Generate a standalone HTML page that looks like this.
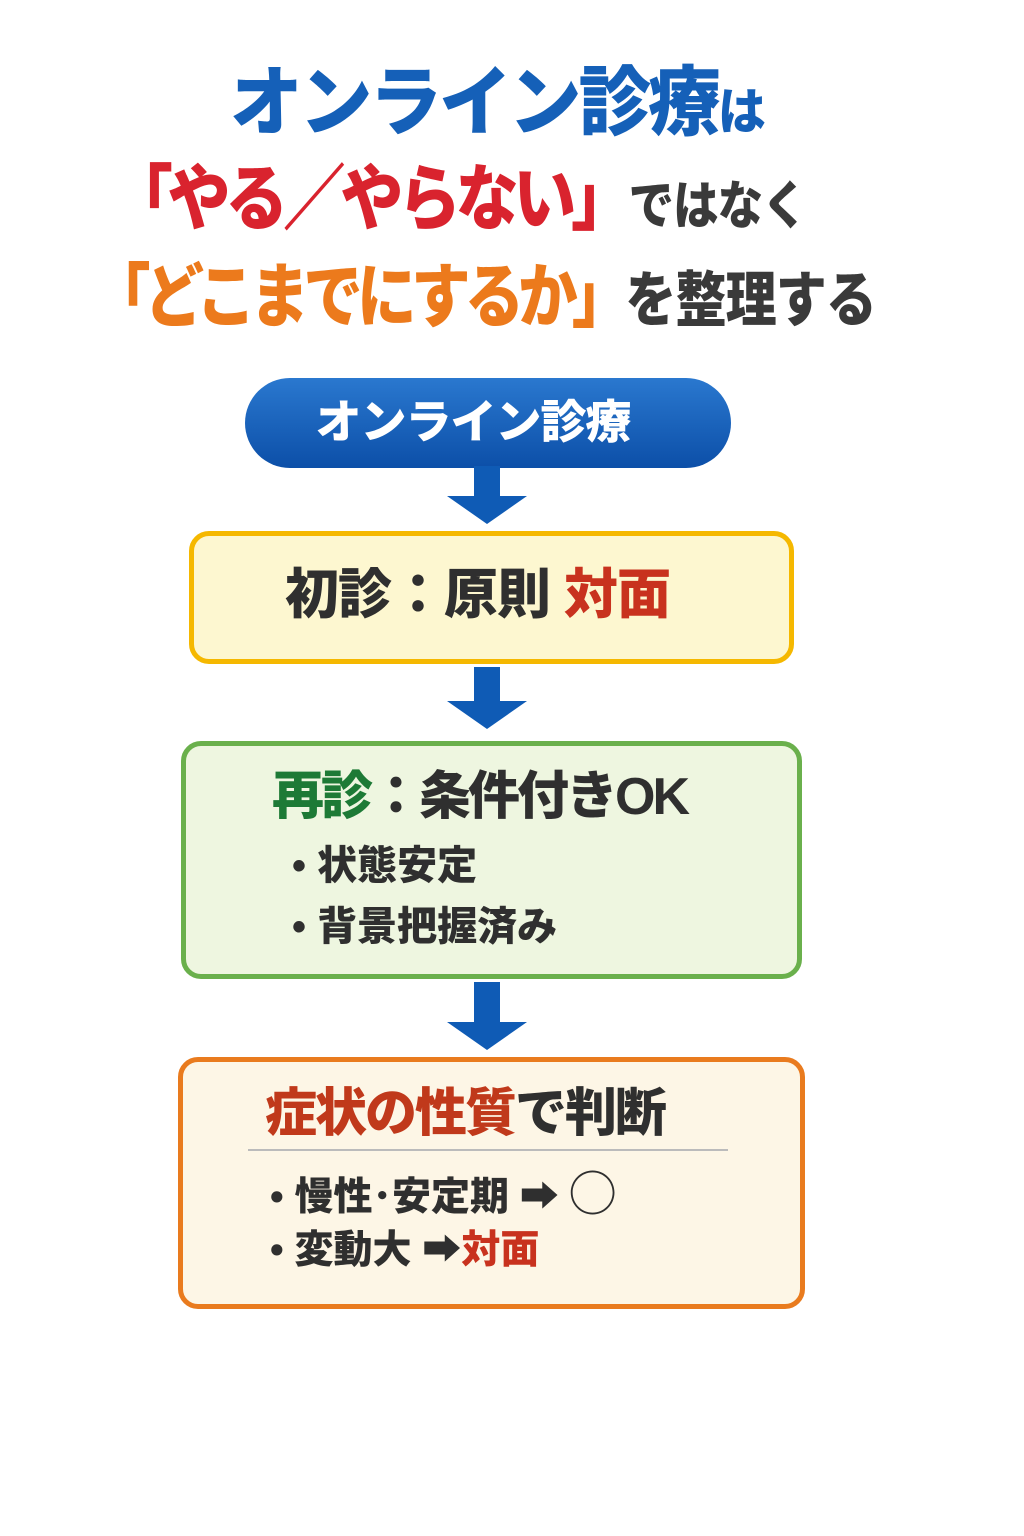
<!DOCTYPE html>
<html><head><meta charset="utf-8"><style>
*{margin:0;padding:0;box-sizing:border-box}
body{width:1024px;height:1536px;background:#fff;position:relative;overflow:hidden;font-family:"Liberation Sans","Noto Sans CJK JP",sans-serif;font-weight:900}
.a{position:absolute;white-space:nowrap;line-height:1}
.box{position:absolute;border-radius:20px}
.arr{position:absolute;width:80px;height:60px}
</style></head><body>
<div class="a" style="left:230px;top:66px;font-size:76px;color:#1560b8;letter-spacing:-3px;transform:scaleX(0.955);transform-origin:left">オンライン診療<span style="font-size:50px;letter-spacing:0">は</span></div>
<div class="a" style="left:110px;top:164px;font-size:72px;color:#d9232e;letter-spacing:-6px;transform:scaleX(0.873);transform-origin:left">「やる／やらない」<span style="font-size:52px;color:#3a3a3a;letter-spacing:-1px">ではなく</span></div>
<div class="a" style="left:91px;top:262px;font-size:70px;color:#ec7a1c;letter-spacing:-7px;transform:scaleX(0.85);transform-origin:left">「どこまでにするか」<span style="font-size:60px;color:#3a3a3a;letter-spacing:-1px">を整理する</span></div>

<div class="box" style="left:245px;top:378px;width:486px;height:90px;border-radius:45px;background:linear-gradient(#2a78cf,#0c4fa8)"></div>
<div class="a" style="left:230px;width:486px;text-align:center;top:399px;font-size:46px;color:#fff;letter-spacing:-1px">オンライン診療</div>

<svg class="arr" style="left:447px;top:466px" viewBox="0 0 80 60"><polygon points="27,0 53,0 53,30 80,30 40,58 0,30 27,30" fill="#0f5bb5"/></svg>

<div class="box" style="left:189px;top:531px;width:605px;height:133px;background:#fdf7d0;border:5px solid #f5b800"></div>
<div class="a" style="left:285px;top:568px;font-size:54px;color:#2f2f2f;letter-spacing:-1px">初診：原則 <span style="color:#c8321e">対面</span></div>

<svg class="arr" style="left:447px;top:667px;height:64px" viewBox="0 0 80 64"><polygon points="27,0 53,0 53,34 80,34 40,62 0,34 27,34" fill="#0f5bb5"/></svg>

<div class="box" style="left:181px;top:741px;width:621px;height:238px;background:#eef6e0;border:5px solid #6ab04c"></div>
<div class="a" style="left:272px;top:771px;font-size:52px;color:#2f2f2f;letter-spacing:-3px"><span style="color:#1d7a36">再診</span>：条件付きOK</div>
<div class="a" style="left:292px;top:846px;font-size:40px;color:#2f2f2f">• 状態安定</div>
<div class="a" style="left:292px;top:907px;font-size:40px;color:#2f2f2f">• 背景把握済み</div>

<svg class="arr" style="left:447px;top:982px;height:70px" viewBox="0 0 80 70"><polygon points="27,0 53,0 53,40 80,40 40,68 0,40 27,40" fill="#0f5bb5"/></svg>

<div class="box" style="left:178px;top:1057px;width:627px;height:252px;background:#fdf6e6;border:5px solid #e97b1e"></div>
<div class="a" style="left:265px;top:1088px;font-size:52px;color:#2f2f2f;letter-spacing:-2px"><span style="color:#c0391b">症状の性質</span>で判断</div>
<div style="position:absolute;left:248px;top:1149px;width:480px;height:2px;background:#bbb"></div>
<div class="a" style="left:270px;top:1171px;font-size:39px;color:#2f2f2f">• 慢性･安定期 ➡ <span style="font-size:46px">◯</span></div>
<div class="a" style="left:270px;top:1231px;font-size:39px;color:#2f2f2f">• 変動大 ➡<span style="color:#c8321e">対面</span></div>
</body></html>
